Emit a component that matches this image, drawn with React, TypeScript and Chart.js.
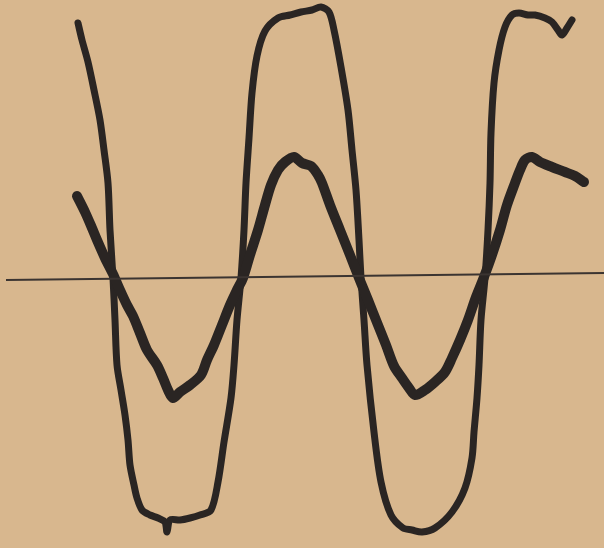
import React, { useEffect, useRef } from "react";
import { Chart, registerables } from "chart.js";

Chart.register(...registerables);

// Time (x) and deflection (y, relative to the zero line)
const largeX = [78, 82, 88, 94, 100, 104, 108, 110, 113, 115, 117, 121, 125, 128, 130, 134, 137, 142, 150, 158, 165, 167, 170, 180, 190, 200, 211, 218, 224, 231, 234, 237, 241, 244, 246, 249, 252, 257, 265, 278, 290, 301, 312, 321, 329, 334, 341, 348, 352, 356, 359, 361, 364, 367, 374, 381, 391, 403, 412, 422, 435, 452, 465, 472, 474, 477, 479, 481, 485, 488, 490, 491, 494, 499, 505, 512, 519, 528, 535, 545, 552, 558, 562, 567, 572];
const largeY = [255, 238, 216, 188, 158, 128, 95, 48, 0, -42, -87, -112, -137, -162, -187, -207, -220, -232, -237, -240, -244, -254, -242, -242, -240, -237, -232, -204, -164, -120, -87, -42, 0, 48, 95, 140, 185, 222, 247, 260, 263, 266, 268, 271, 266, 248, 211, 168, 128, 88, 38, 0, -42, -87, -154, -204, -237, -250, -252, -254, -250, -234, -210, -180, -154, -120, -87, -42, 0, 48, 95, 145, 195, 228, 251, 263, 265, 263, 263, 260, 256, 248, 243, 250, 258];

const smallX = [77, 85, 92, 97, 105, 113, 120, 127, 133, 140, 147, 157, 163, 168, 173, 180, 190, 201, 207, 214, 222, 230, 237, 243, 250, 258, 265, 271, 278, 285, 294, 302, 311, 318, 322, 330, 340, 350, 359, 368, 378, 386, 394, 402, 409, 415, 425, 435, 445, 452, 460, 468, 476, 484, 492, 500, 507, 515, 520, 525, 532, 540, 552, 565, 575, 584];
const smallY = [82, 66, 50, 38, 20, 4, -12, -27, -38, -55, -72, -87, -100, -112, -120, -114, -107, -97, -82, -67, -47, -27, -12, 0, 23, 48, 73, 93, 108, 116, 121, 115, 112, 103, 95, 73, 48, 23, 0, -22, -47, -67, -88, -100, -110, -117, -112, -104, -94, -80, -62, -42, -19, 1, 23, 48, 73, 95, 108, 118, 121, 116, 111, 106, 102, 96];

const zeroX = [6, 604];
const zeroY = [-2, 5];

const pts = (xs: number[], ys: number[]) => xs.map((x, i) => ({ x, y: ys[i] }));

export default function App() {
  const ref = useRef<HTMLCanvasElement>(null);
  useEffect(() => {
    document.body.style.margin = "0";
    document.body.style.background = "#d8b78e";
    const chart = new Chart(ref.current!, {
      type: "line",
      data: {
        datasets: [
          {
            data: pts(zeroX, zeroY),
            borderColor: "#3b3431",
            borderWidth: 2,
            pointRadius: 0,
            tension: 0,
          },
          {
            data: pts(smallX, smallY),
            borderColor: "#2a2523",
            borderWidth: 10,
            pointRadius: 0,
            tension: 0.3,
            borderCapStyle: "round",
            borderJoinStyle: "round",
          },
          {
            data: pts(largeX, largeY),
            borderColor: "#2a2523",
            borderWidth: 7,
            pointRadius: 0,
            tension: 0.3,
            borderCapStyle: "round",
            borderJoinStyle: "round",
          },
        ],
      },
      options: {
        animation: false,
        responsive: false,
        layout: { padding: 0 },
        plugins: { legend: { display: false }, tooltip: { enabled: false } },
        scales: {
          x: { type: "linear", min: 0, max: 604, display: false },
          y: { type: "linear", min: -270, max: 278, display: false },
        },
      },
    });
    return () => chart.destroy();
  }, []);
  return (
    <div style={{ position: "fixed", left: 0, top: 0, width: 604, height: 548, background: "#d8b78e" }}>
      <canvas ref={ref} width={604} height={548} style={{ display: "block" }} />
    </div>
  );
}
